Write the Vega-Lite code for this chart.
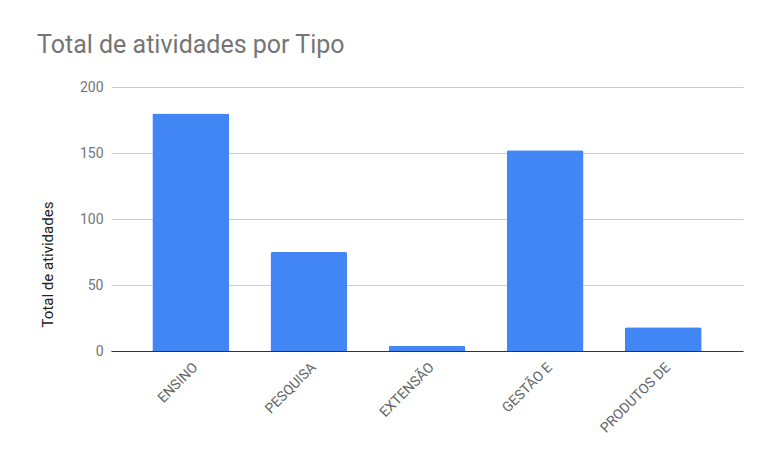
{
  "$schema": "https://vega.github.io/schema/vega-lite/v6.json",
  "autosize": "none",
  "width": 632,
  "height": 264,
  "padding": {"left": 111, "top": 87, "right": 29, "bottom": 121},
  "background": "white",
  "config": {
    "font": "Roboto",
    "view": {"stroke": null}
  },
  "title": {
    "text": "Total de atividades por Tipo",
    "anchor": "start",
    "frame": "group",
    "fontSize": 25,
    "fontWeight": "normal",
    "color": "#757575",
    "dx": -74,
    "offset": 22
  },
  "data": {
    "values": [
      {"tipo": "ENSINO", "total": 180},
      {"tipo": "PESQUISA", "total": 75},
      {"tipo": "EXTENSÃO", "total": 4},
      {"tipo": "GESTÃO E", "total": 152},
      {"tipo": "PRODUTOS DE", "total": 18}
    ]
  },
  "mark": {
    "type": "bar",
    "color": "#4285F4",
    "cornerRadiusTopLeft": 2,
    "cornerRadiusTopRight": 2
  },
  "encoding": {
    "x": {
      "field": "tipo",
      "type": "nominal",
      "sort": null,
      "scale": {"paddingInner": 0.35, "paddingOuter": 0.35},
      "axis": {
        "title": null,
        "labelAngle": -45,
        "labelFontSize": 14,
        "labelColor": "#666666",
        "ticks": false,
        "labelPadding": 9,
        "domainColor": "#333333",
        "domainWidth": 1
      }
    },
    "y": {
      "field": "total",
      "type": "quantitative",
      "scale": {"domain": [0, 200]},
      "axis": {
        "values": [0, 50, 100, 150, 200],
        "title": "Total de atividades",
        "titleFontSize": 15,
        "titleFontWeight": "normal",
        "titleColor": "#222222",
        "titleX": -59,
        "titleY": 177,
        "titleAlign": "center",
        "titleBaseline": "alphabetic",
        "titleAngle": -90,
        "labelFontSize": 14,
        "labelColor": "#757575",
        "labelPadding": 8,
        "ticks": false,
        "domain": false,
        "gridColor": "#cccccc",
        "gridWidth": 1
      }
    }
  }
}
